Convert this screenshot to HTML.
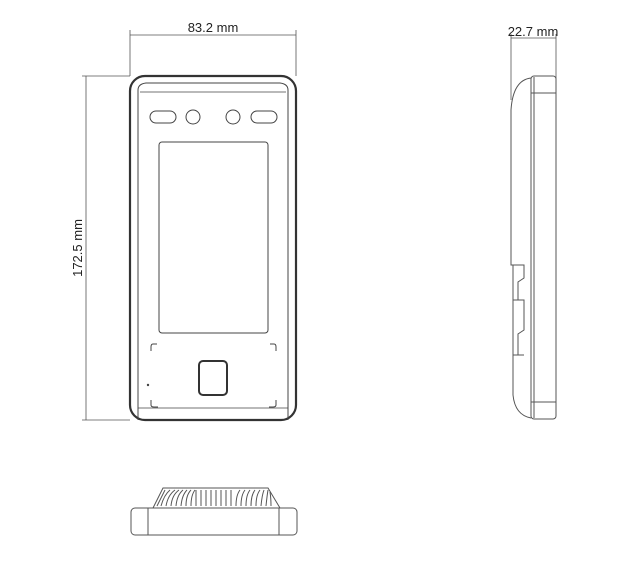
<!DOCTYPE html>
<html><head><meta charset="utf-8"><style>body{margin:0;background:#fff}svg{display:block}</style></head><body>
<svg width="620" height="572" viewBox="0 0 620 572" xmlns="http://www.w3.org/2000/svg" font-family="Liberation Sans, sans-serif">
<g stroke="#555" fill="none" stroke-width="0.8">
<line x1="130" y1="30" x2="130" y2="76"/><line x1="296" y1="30" x2="296" y2="76"/>
<line x1="130" y1="35" x2="296" y2="35"/>
<line x1="82" y1="76" x2="130" y2="76"/><line x1="82" y1="420" x2="130" y2="420"/>
<line x1="86" y1="76" x2="86" y2="420"/>
<line x1="511" y1="34" x2="511" y2="100"/><line x1="556" y1="34" x2="556" y2="80"/>
<line x1="511" y1="38" x2="556" y2="38"/>
</g>
<text x="213" y="32" font-size="13" text-anchor="middle" fill="#222">83.2 mm</text>
<text x="533" y="36" font-size="13" text-anchor="middle" fill="#222">22.7 mm</text>
<text transform="translate(82,248) rotate(-90)" font-size="13" text-anchor="middle" fill="#222">172.5 mm</text>
<g fill="none" stroke="#444">
<rect x="130" y="76" width="166" height="344" rx="15" stroke-width="2.2" stroke="#333"/>
<path d="M138 420 V90 Q138 84 146 83 H280 Q288 84 288 90 V420" stroke-width="1"/>
<line x1="140" y1="92" x2="286" y2="92" stroke-width="0.8"/>
<line x1="138" y1="408" x2="288" y2="408" stroke-width="0.8"/>
<rect x="150" y="111" width="26" height="12" rx="6" stroke-width="1"/>
<circle cx="193" cy="117" r="7" stroke-width="1"/>
<circle cx="233" cy="117" r="7" stroke-width="1"/>
<rect x="251" y="111" width="26" height="12" rx="6" stroke-width="1"/>
<rect x="159" y="142" width="109" height="191" rx="3" stroke-width="1"/>
<path d="M157 344 H153 Q151 344 151 347 V351" stroke-width="1"/>
<path d="M270 344 H274 Q276 344 276 347 V351" stroke-width="1"/>
<path d="M151 400 V405 Q151 407 154 407 H158" stroke-width="1"/>
<path d="M276 400 V405 Q276 407 273 407 H269" stroke-width="1"/>
<rect x="199" y="361" width="28" height="34" rx="4" stroke-width="2" stroke="#333"/>
</g>
<circle cx="148" cy="385" r="1.2" fill="#444"/>
<g fill="none" stroke="#555" stroke-width="1">
<rect x="531" y="76" width="25" height="343" rx="3"/>
<line x1="534" y1="77" x2="534" y2="418"/>
<line x1="531" y1="93" x2="556" y2="93"/>
<line x1="531" y1="402" x2="556" y2="402"/>
<path d="M531 78 Q513 80 511 110 V265 H524 V278 L518 282 V300 H524 V330 L518 334 V355 H524 M513 265 V395 Q515 415 531 418"/>
<line x1="513" y1="300" x2="524" y2="300"/><line x1="513" y1="355" x2="524" y2="355"/>
</g>
<g fill="none" stroke="#555" stroke-width="1">
<rect x="131" y="508" width="166" height="27" rx="4"/>
<line x1="148" y1="508" x2="148" y2="535"/><line x1="279" y1="508" x2="279" y2="535"/>
<path d="M153 508 L163 488 H268 L280 508"/>
<path d="M157 506 L165 490 M161 506 Q164 495 170 490 M166 506 Q168 495 175 490 M171 506 Q172 495 179 490 M176 506 Q177 495 183 490 M181 506 Q182 495 187 490 M186 506 Q186 495 191 490 M191 506 Q191 495 195 490 M196 506 V490 M201 506 V490 M206 506 V490 M211 506 V490 M216 506 V490 M221 506 V490 M226 506 V490 M231 506 V490 M236 506 Q236 495 240 490 M241 506 Q241 495 245 490 M246 506 Q246 495 250 490 M251 506 Q251 495 255 490 M256 506 Q256 495 260 490 M261 506 Q262 495 264 490 M266 506 Q267 496 268 490 M271 506 Q271 498 270 492"/>
</g>
</svg>
</body></html>
